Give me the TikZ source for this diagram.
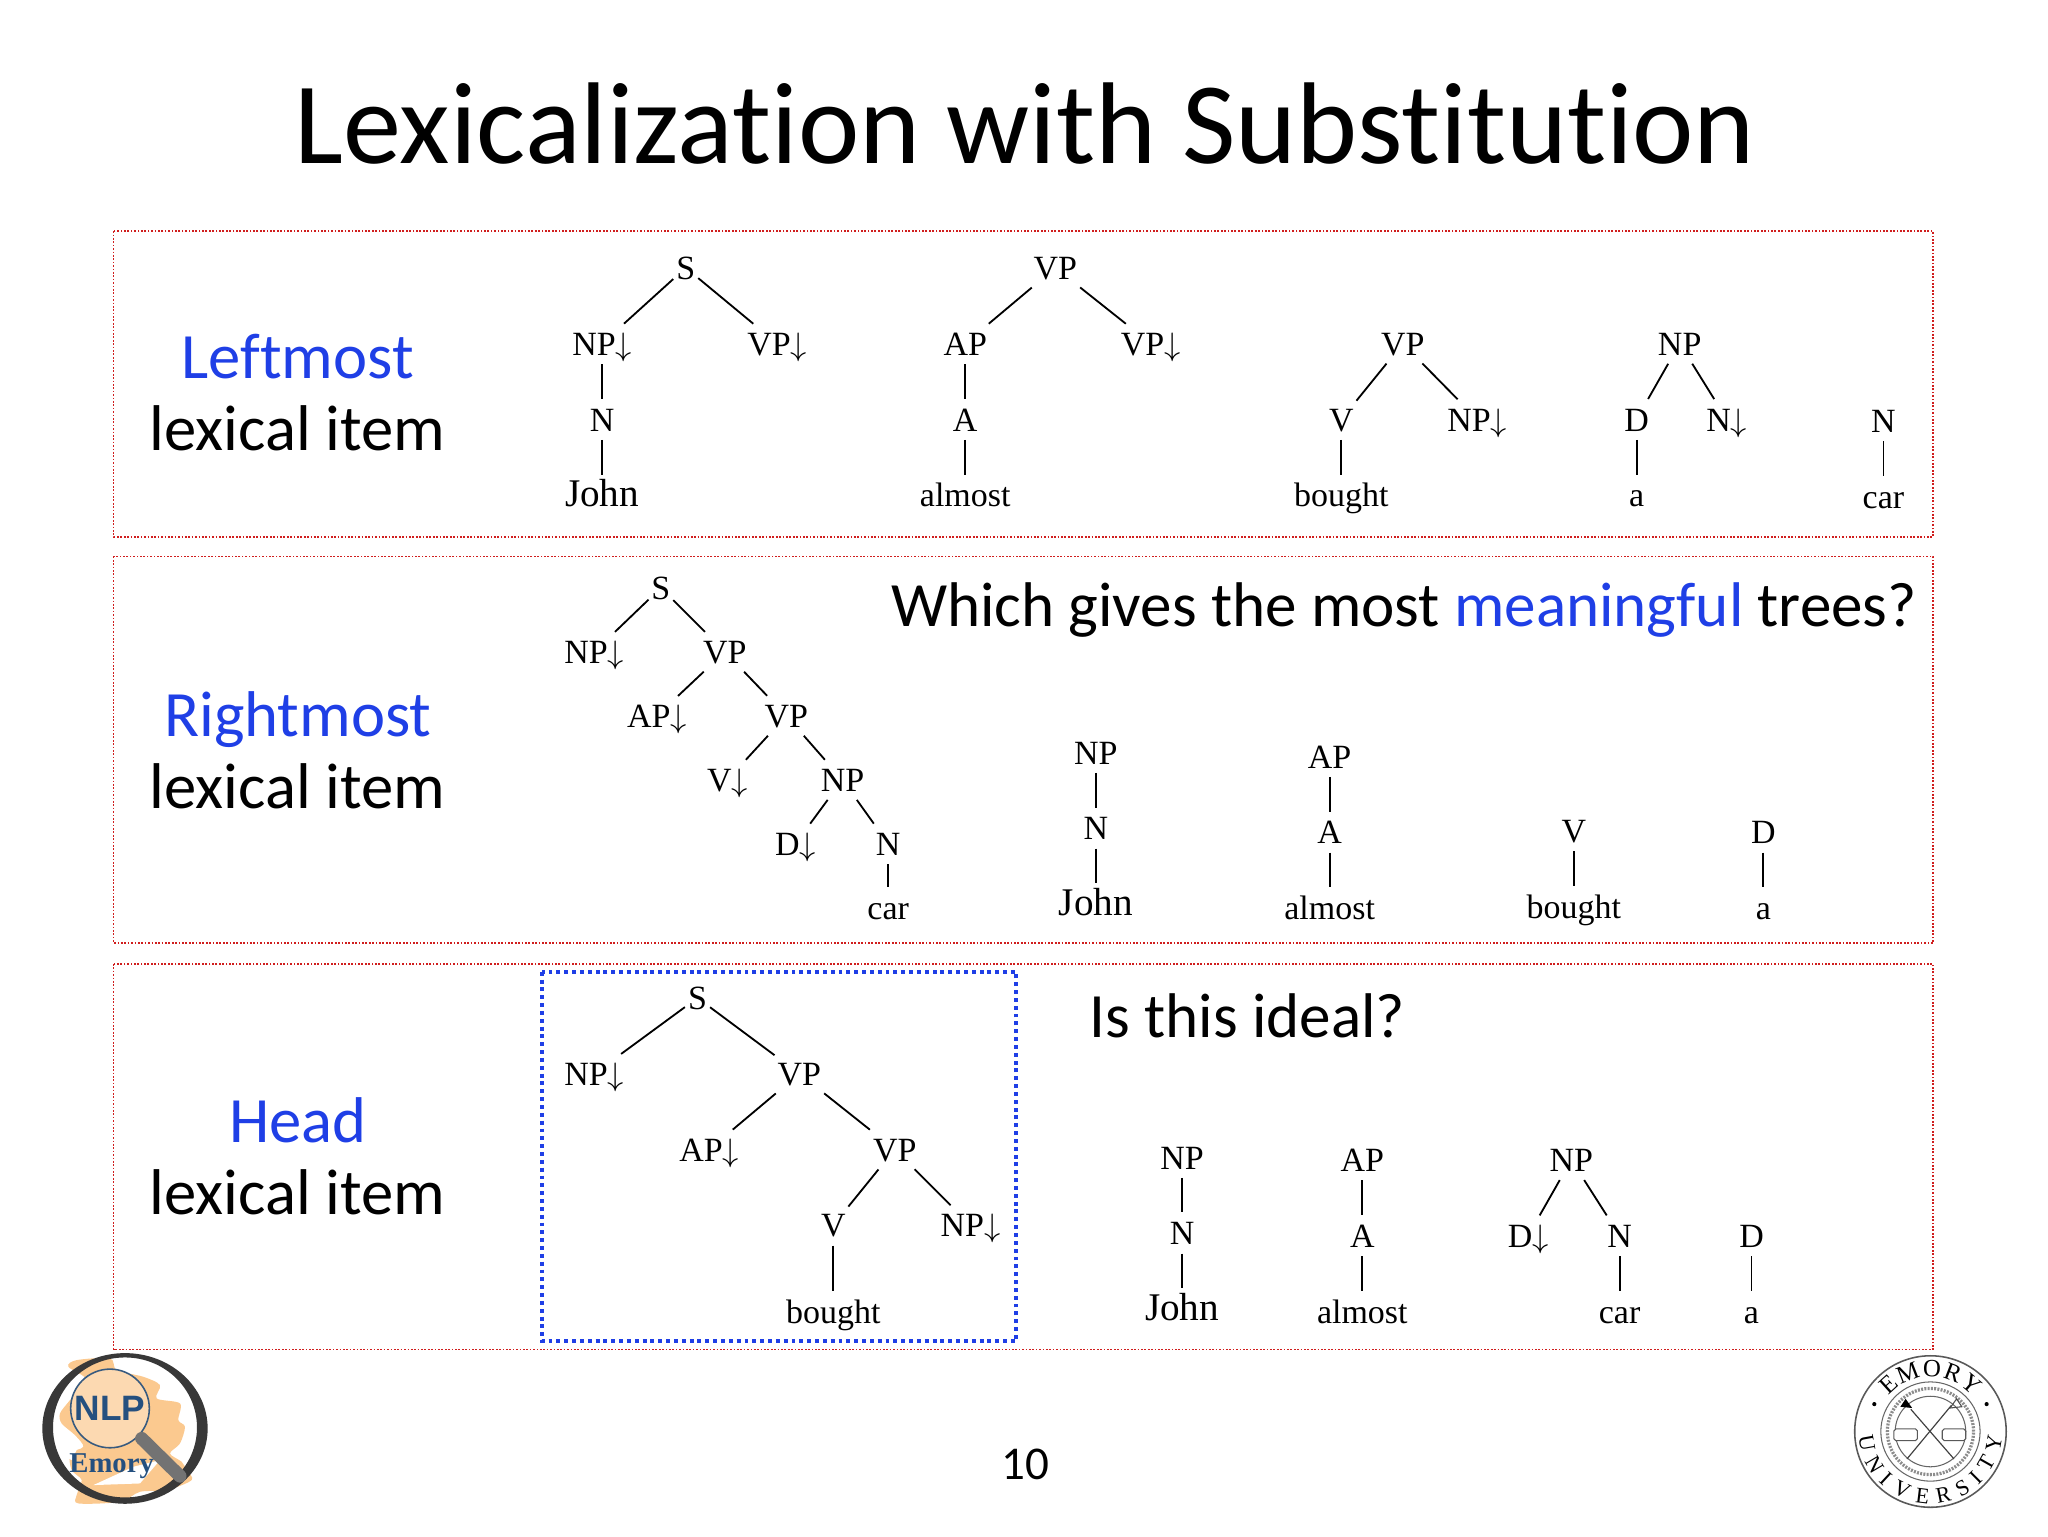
\documentclass[tikz,border=0pt]{standalone}
\usepackage{fontspec}
\usepackage{xcolor}
\setmainfont{Liberation Serif}
\newfontfamily\gill[Ligatures=NoCommon]{Carlito}
\newfontfamily\arialb{Liberation Sans}
\usetikzlibrary{positioning,decorations.text}
\definecolor{keyblue}{HTML}{1F3FE6}
\definecolor{panelred}{HTML}{D01E1E}
\definecolor{peach}{HTML}{FBC98F}
\definecolor{nlpblue}{HTML}{25507F}
\newcommand{\subst}{$\downarrow$}
\newcommand{\sealfont}{\fontsize{17}{17}\selectfont}
\newcommand{\sealtop}{\fontsize{19}{19}\selectfont}

\begin{document}
\begin{tikzpicture}[
    x=1pt, y=-1pt,
    node distance=58pt,
    tnode/.style={inner xsep=1pt, inner ysep=5pt, text height=18pt, text depth=0pt, font=\fontsize{26}{28}\selectfont},
    bigword/.style={font=\fontsize{30}{32}\selectfont},
    tight/.style={node distance=49pt},
    tedge/.style={line width=1.4pt, shorten >=1.5pt, shorten <=1.5pt},
    panel/.style={draw=panelred, line width=1.1pt, dash pattern=on 1.3pt off 1.3pt},
    headbox/.style={draw=keyblue, line width=3pt, dash pattern=on 3pt off 3pt},
    rowkey/.style={anchor=base, inner sep=0pt, font=\gill\fontsize{49.5}{54}\selectfont, text=keyblue},
    rowlab/.style={anchor=base, inner sep=0pt, font=\gill\fontsize{49.5}{54}\selectfont},
    ask/.style={anchor=base west, inner sep=0pt, font=\gill\fontsize{48.3}{52}\selectfont}
]
\useasboundingbox (0,0) rectangle (1568,1176);

\node[anchor=base, font=\gill\fontsize{89}{96}\selectfont] (title) at (785,125) {Lexicalization with Substitution};
\node[font=\gill\fontsize{36}{40}\selectfont] (page) at (785,1121) {10};

% panels
\draw[panel] (87,177) rectangle (1480,411);
\draw[panel] (87,426) rectangle (1480,722);
\draw[panel] (87,738) rectangle (1480,1033);
\draw[headbox] (415,744) rectangle (778,1027);

\node[rowkey] (keya) at (228,290) {Leftmost};
\node[rowlab] (laba) at (228,345) {lexical item};
\node[rowkey] (keyb) at (228,564) {Rightmost};
\node[rowlab] (labb) at (228,619) {lexical item};
\node[rowkey] (keyc) at (228,875) {Head};
\node[rowlab] (labc) at (228,930) {lexical item};

\node[ask] (askb) at (682,480) {Which gives the most {\color{keyblue}meaningful} trees?};
\node[ask] (askc) at (834,794) {Is this ideal?};

% leftmost
\node[tnode] (s1) at (525,205) {S};
\node[tnode, below of=s1, xshift=-64] (np1) {NP\subst};
\node[tnode, below of=s1, xshift=70]  (vp1) {VP\subst};
\node[tnode, below of=np1] (n1) {N};
\node[tnode, bigword, below of=n1]  (john1) {John};
\draw[tedge] (s1) -- (np1);
\draw[tedge] (s1) -- (vp1);
\draw[tedge] (np1) -- (n1);
\draw[tedge] (n1) -- (john1);

\node[tnode] (vp2) at (808,205) {VP};
\node[tnode, below of=vp2, xshift=-69] (ap2) {AP};
\node[tnode, below of=vp2, xshift=73]  (vq2) {VP\subst};
\node[tnode, below of=ap2] (a2) {A};
\node[tnode, below of=a2]  (almost2) {almost};
\draw[tedge] (vp2) -- (ap2);
\draw[tedge] (vp2) -- (vq2);
\draw[tedge] (ap2) -- (a2);
\draw[tedge] (a2) -- (almost2);

\node[tnode] (vp3) at (1074,263) {VP};
\node[tnode, below of=vp3, xshift=-47] (v3) {V};
\node[tnode, below of=vp3, xshift=57]  (np3) {NP\subst};
\node[tnode, below of=v3] (bought3) {bought};
\draw[tedge] (vp3) -- (v3);
\draw[tedge] (vp3) -- (np3);
\draw[tedge] (v3) -- (bought3);

\node[tnode] (np4) at (1286,263) {NP};
\node[tnode, below of=np4, xshift=-33] (d4) {D};
\node[tnode, below of=np4, xshift=36]  (n4) {N\subst};
\node[tnode, below of=d4] (a4) {a};
\draw[tedge] (np4) -- (d4);
\draw[tedge] (np4) -- (n4);
\draw[tedge] (d4) -- (a4);

\node[tnode] (n5) at (1442,322) {N};
\node[tnode, below of=n5] (car5) {car};
\draw[tedge] (n5) -- (car5);

% rightmost
\node[tnode] (s6) at (506,450) {S};
\node[tnode, tight, below of=s6, xshift=-51] (np6) {NP\subst};
\node[tnode, tight, below of=s6, xshift=49]  (vp6) {VP};
\node[tnode, tight, below of=vp6, xshift=-52] (ap6) {AP\subst};
\node[tnode, tight, below of=vp6, xshift=47]  (vq6) {VP};
\node[tnode, tight, below of=vq6, xshift=-45] (v6) {V\subst};
\node[tnode, tight, below of=vq6, xshift=43]  (nq6) {NP};
\node[tnode, tight, below of=nq6, xshift=-36] (d6) {D\subst};
\node[tnode, tight, below of=nq6, xshift=35]  (n6) {N};
\node[tnode, tight, below of=n6] (car6) {car};
\draw[tedge] (s6) -- (np6);
\draw[tedge] (s6) -- (vp6);
\draw[tedge] (vp6) -- (ap6);
\draw[tedge] (vp6) -- (vq6);
\draw[tedge] (vq6) -- (v6);
\draw[tedge] (vq6) -- (nq6);
\draw[tedge] (nq6) -- (d6);
\draw[tedge] (nq6) -- (n6);
\draw[tedge] (n6) -- (car6);

\node[tnode] (np7) at (839,576) {NP};
\node[tnode, below of=np7] (n7) {N};
\node[tnode, bigword, below of=n7]  (john7) {John};
\draw[tedge] (np7) -- (n7);
\draw[tedge] (n7) -- (john7);

\node[tnode] (ap8) at (1018,579) {AP};
\node[tnode, below of=ap8] (a8) {A};
\node[tnode, below of=a8]  (almost8) {almost};
\draw[tedge] (ap8) -- (a8);
\draw[tedge] (a8) -- (almost8);

\node[tnode] (v9) at (1205,636) {V};
\node[tnode, below of=v9] (bought9) {bought};
\draw[tedge] (v9) -- (bought9);

\node[tnode] (d10) at (1350,637) {D};
\node[tnode, below of=d10] (a10) {a};
\draw[tedge] (d10) -- (a10);

% head
\node[tnode] (s11) at (534,764) {S};
\node[tnode, below of=s11, xshift=-79] (np11) {NP\subst};
\node[tnode, below of=s11, xshift=78]  (vp11) {VP};
\node[tnode, below of=vp11, xshift=-69] (ap11) {AP\subst};
\node[tnode, below of=vp11, xshift=73]  (vq11) {VP};
\node[tnode, below of=vq11, xshift=-47] (v11) {V};
\node[tnode, below of=vq11, xshift=58]  (nq11) {NP\subst};
\node[tnode, below of=v11, yshift=-8] (bought11) {bought};
\draw[tedge] (s11) -- (np11);
\draw[tedge] (s11) -- (vp11);
\draw[tedge] (vp11) -- (ap11);
\draw[tedge] (vp11) -- (vq11);
\draw[tedge] (vq11) -- (v11);
\draw[tedge] (vq11) -- (nq11);
\draw[tedge] (v11) -- (bought11);

\node[tnode] (np12) at (905,886) {NP};
\node[tnode, below of=np12] (n12) {N};
\node[tnode, bigword, below of=n12]  (john12) {John};
\draw[tedge] (np12) -- (n12);
\draw[tedge] (n12) -- (john12);

\node[tnode] (ap13) at (1043,888) {AP};
\node[tnode, below of=ap13] (a13) {A};
\node[tnode, below of=a13]  (almost13) {almost};
\draw[tedge] (ap13) -- (a13);
\draw[tedge] (a13) -- (almost13);

\node[tnode] (np14) at (1203,888) {NP};
\node[tnode, below of=np14, xshift=-33] (d14) {D\subst};
\node[tnode, below of=np14, xshift=37]  (n14) {N};
\node[tnode, below of=n14] (car14) {car};
\draw[tedge] (np14) -- (d14);
\draw[tedge] (np14) -- (n14);
\draw[tedge] (n14) -- (car14);

\node[tnode] (d15) at (1341,946) {D};
\node[tnode, below of=d15] (a15) {a};
\draw[tedge] (d15) -- (a15);

% nlp logo
\begin{scope}[shift={(0,1010.7)}, x=0.2552pt, y=-0.2552pt]
\fill[peach] plot[smooth cycle] coordinates {(205,140) (230,120) (330,115) (350,150) (430,170) (480,195) (470,235) (540,250) (535,300) (555,320) (540,370) (510,400) (545,425) (560,450) (575,480) (500,510) (420,515) (360,545) (235,550) (230,525) (245,480) (215,450) (210,400) (250,380) (225,345) (185,310) (180,280) (210,240) (260,180)};
\fill[white] (250,210) -- (340,165) -- (400,200) -- (320,250) -- cycle;
\fill[white] (170,340) -- (240,370) -- (215,420) -- (175,400) -- cycle;
\fill[white] (280,495) -- (400,440) -- (480,420) -- (420,490) -- cycle;
\fill[black!78, even odd rule] (375,325) ellipse [x radius=248, y radius=226] (375,322) ellipse [x radius=216, y radius=210];
\draw[line width=1.2pt, nlpblue!80!gray, fill=peach!70!white] (330,265) circle (118);
\draw[line width=10pt, line cap=round, black!55] (425,355) -- (540,468);
\node[font=\arialb\bfseries\fontsize{27}{28}\selectfont, text=nlpblue, inner sep=0pt] (nlp) at (330,265) {NLP};
\node[font=\bfseries\fontsize{22}{24}\selectfont, text=nlpblue, inner sep=0pt] (emory) at (335,438) {Emory};
\end{scope}

% seal
\begin{scope}[shift={(1478,1096)}, y=1pt]
\draw[line width=1.2pt, black!65] (0,0) circle (58);
\draw[line width=.8pt, black!60] (0,0) circle (38);
\draw[line width=2.5pt, black!45, dash pattern=on 1.5pt off 1pt] (0,0) circle (33);
\draw[line width=.8pt, black!60] (0,0) circle (27);
\path[decorate, decoration={text along path, text align=fit to path, text={|\sealtop|EMORY}}] (140:42) arc[start angle=140, end angle=40, radius=42];
\path[decorate, decoration={text along path, text align=fit to path, text={|\sealfont|UNIVERSITY}}] (184:55) arc[start angle=184, end angle=356, radius=55];
\fill (-43,21) circle (1.6);
\fill (43,21) circle (1.6);
\draw[line width=.9pt, black!75] (-18,-21) -- (16,20);
\draw[line width=.9pt, black!75] (18,-21) -- (-15,17);
\fill (-14,18) -- (-19,25) -- (-23,19) -- cycle;
\draw[line width=.8pt, black!70] (15,18) -- (20,25) -- (24,19) -- cycle;
\draw[line width=.8pt, black!65, rounded corners=1.5pt, fill=white] (-28,-7) rectangle (-10,2);
\draw[line width=.8pt, black!65, rounded corners=1.5pt, fill=white] (9,-7) rectangle (27,2);
\end{scope}
\end{tikzpicture}
\end{document}
